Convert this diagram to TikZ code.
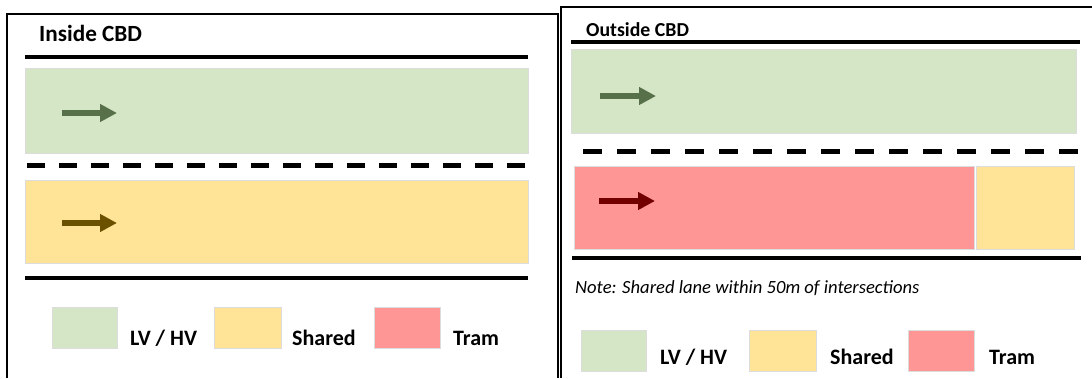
\documentclass[tikz,border=0pt]{standalone}
\usepackage{fontspec}
\setmainfont{Carlito}
\usetikzlibrary{arrows.meta}
\definecolor{lvgreen}{HTML}{D4E6C6}
\definecolor{sharedyellow}{HTML}{FFE497}
\definecolor{tramred}{HTML}{FF9696}
\definecolor{lvarrow}{HTML}{58704A}
\definecolor{sharedarrow}{HTML}{6A5100}
\definecolor{tramarrow}{HTML}{720000}
\definecolor{laneedge}{HTML}{DCDCDC}
\tikzset{
  panel/.style={line width=2.5pt, black},
  kerb/.style={line width=4.5pt, black},
  divider/.style={line width=5pt, black},
  lane/.style={draw=laneedge, line width=0.8pt},
  flow/.style={line width=5.5pt, -{Triangle[length=17pt,width=17pt]}},
  heading/.style={anchor=base west, inner sep=0pt, font=\bfseries\fontsize{23.2}{27}\selectfont},
  subheading/.style={anchor=base west, inner sep=0pt, font=\bfseries\fontsize{19.8}{23}\selectfont},
  keylabel/.style={anchor=base west, inner sep=0pt, font=\bfseries\fontsize{22}{26}\selectfont},
  notetext/.style={anchor=base west, inner sep=0pt, font=\itshape\fontsize{18.6}{22}\selectfont},
}
\begin{document}
\begin{tikzpicture}[x=1pt,y=-1pt]
\useasboundingbox[fill=white] (0,0) rectangle (1092,378);

% ---------- Inside CBD ----------
\draw[panel] (7,378) -- (7,14) -- (558,14) -- (558,378);
\node[heading] (inTitle) at (39,41) {Inside CBD};

\draw[kerb] (25,57) -- (528,57);
\draw[lane, fill=lvgreen] (25,68) rectangle (528,153);
\coordinate (inA1) at (62,113);
\coordinate (inA2) at (117,113);
\draw[flow, lvarrow] (inA1) -- (inA2);

\draw[divider, dash pattern=on 18pt off 14pt] (27,165) -- (528,165);

\draw[lane, fill=sharedyellow] (25,180) rectangle (528,263);
\coordinate (inB1) at (62,223);
\coordinate (inB2) at (117,223);
\draw[flow, sharedarrow] (inB1) -- (inB2);

\draw[kerb] (25,278) -- (528,278);

% legend
\draw[lane, fill=lvgreen] (52,307) rectangle (117,348);
\node[keylabel] (inKeyLV) at (130,345) {LV / HV};
\draw[lane, fill=sharedyellow] (214,307) rectangle (281,348);
\node[keylabel] (inKeySh) at (292,345) {Shared};
\draw[lane, fill=tramred] (374,307) rectangle (440,348);
\node[keylabel] (inKeyTr) at (453,345) {Tram};

% ---------- Outside CBD ----------
\draw[panel] (561,378) -- (561,7) -- (1092,7);
\node[subheading] (outTitle) at (586,36) {Outside CBD};

\draw[kerb] (571,42) -- (1080,42);
\draw[lane, fill=lvgreen] (571,49) rectangle (1076,133);
\coordinate (outA1) at (600,96);
\coordinate (outA2) at (656,96);
\draw[flow, lvarrow] (outA1) -- (outA2);

\draw[divider, dash pattern=on 19pt off 15pt] (583,151) -- (1078,151);

\draw[lane, fill=tramred] (574,166) rectangle (974,249);
\draw[lane, fill=sharedyellow] (976,166) rectangle (1074,249);
\coordinate (outB1) at (599,201);
\coordinate (outB2) at (655,201);
\draw[flow, tramarrow] (outB1) -- (outB2);

\draw[kerb] (572,258) -- (1081,258);

\node[notetext] (outNote) at (575,293) {Note: Shared lane within 50m of intersections};

% legend
\draw[lane, fill=lvgreen] (581,330) rectangle (646,371);
\node[keylabel] (outKeyLV) at (660,364) {LV / HV};
\draw[lane, fill=sharedyellow] (749,330) rectangle (816,371);
\node[keylabel] (outKeySh) at (830,364) {Shared};
\draw[lane, fill=tramred] (908,330) rectangle (974,371);
\node[keylabel] (outKeyTr) at (989,364) {Tram};
\end{tikzpicture}
\end{document}
